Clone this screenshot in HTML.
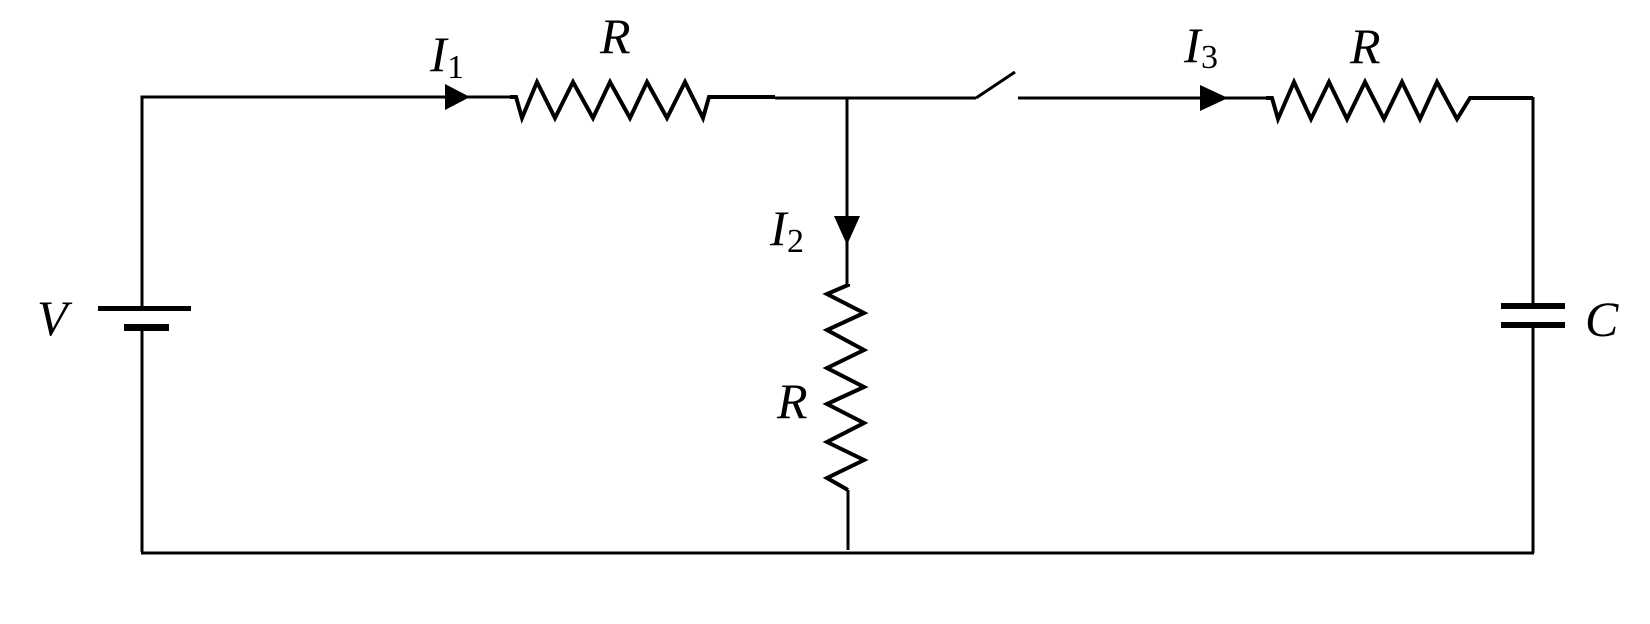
<!DOCTYPE html>
<html><head><style>html,body{margin:0;padding:0;background:#fff;}svg{display:block}</style></head>
<body>
<svg width="1650" height="624" viewBox="0 0 1650 624" xmlns="http://www.w3.org/2000/svg">
<g fill="none" stroke="#000" stroke-width="3" stroke-linejoin="miter">
  <polyline points="142,308 142,97 510,97"/>
  <line x1="142" y1="327" x2="142" y2="552"/>
  <polyline stroke-width="4" points="510,97 516,97 522,118 537,82 555,118 573,82 593,118 610,82 630,118 647,82 667,118 685,82 703,118 709,97 775,97"/>
  <line x1="775" y1="98" x2="976" y2="98"/>
  <line x1="976" y1="98" x2="1015" y2="72"/>
  <line x1="1018" y1="98" x2="1266" y2="98"/>
  <polyline stroke-width="4" points="1266,98 1272,98 1278,119 1294,82 1311,119 1329,82 1347,119 1365,82 1384,119 1402,82 1420,119 1437,82 1457,119 1470,98 1533,98"/>
  <line x1="1533" y1="97" x2="1533" y2="306"/>
  <line x1="1533" y1="325" x2="1533" y2="553"/>
  <line x1="141" y1="553" x2="1534" y2="553"/>
  <line x1="847" y1="97" x2="847" y2="285"/>
  <polyline stroke-width="4" points="848,284 848,285 827,294 864,313 827,330 864,350 827,368 864,387 827,404 864,423 827,442 864,460 827,478 848,490"/>
  <line x1="848" y1="490" x2="848" y2="550"/>
</g>
<rect x="98" y="306" width="93" height="5" fill="#000"/>
<rect x="124" y="324" width="45" height="7" fill="#000"/>
<rect x="1501" y="303" width="64" height="6" fill="#000"/>
<rect x="1501" y="322" width="64" height="6" fill="#000"/>
<polygon points="445,84 445,110 470,97" fill="#000"/>
<polygon points="1200,85 1200,111 1228,98" fill="#000"/>
<polygon points="834,216 860,216 847,245" fill="#000"/>
<g font-family="Liberation Serif, serif" font-style="italic" font-size="50" fill="#000">
  <text x="37" y="335">V</text>
  <text x="600" y="53">R</text>
  <text x="1350" y="63">R</text>
  <text x="777" y="418">R</text>
  <text x="1585" y="336">C</text>
  <text x="430" y="71">I</text>
  <text x="1184" y="62">I</text>
  <text x="770" y="245">I</text>
</g>
<g font-family="Liberation Serif, serif" font-size="34" fill="#000">
  <text x="447" y="78">1</text>
  <text x="1201" y="68">3</text>
  <text x="787" y="252">2</text>
</g>
</svg>
</body></html>
